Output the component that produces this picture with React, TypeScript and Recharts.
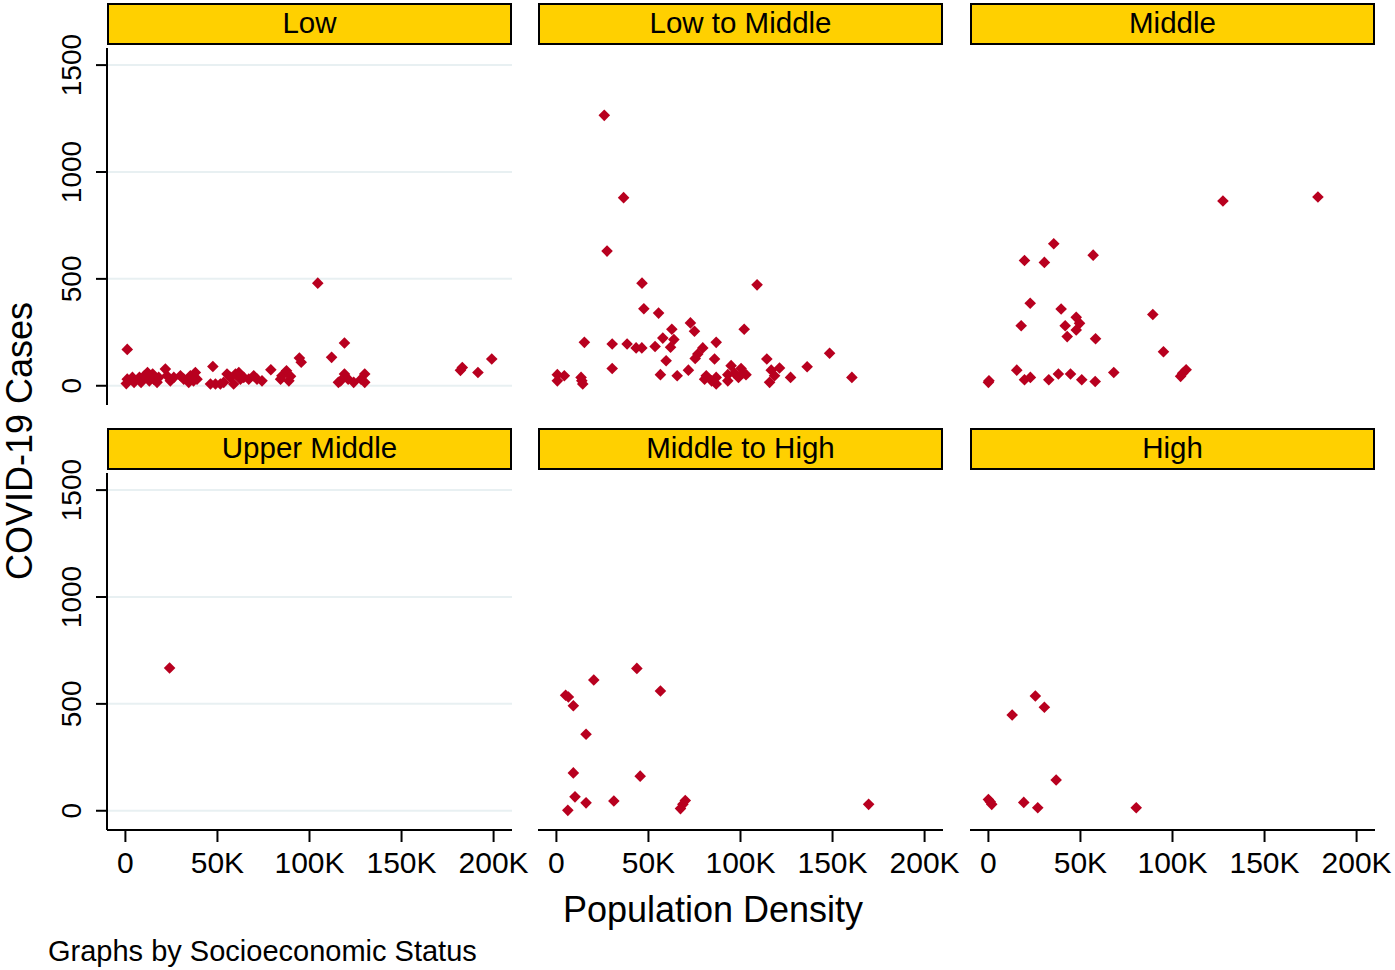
import React from 'react';
import { ScatterChart, Scatter, XAxis, YAxis, CartesianGrid } from 'recharts';

const FONT = '"Liberation Sans", Arial, Helvetica, sans-serif';
const RED = '#b8001f';
const GOLD = '#ffd000';
const GRID = '#e8f0f2';

const panelTitles = ['Low', 'Low to Middle', 'Middle', 'Upper Middle', 'Middle to High', 'High'];
const xTicks = [0, 50000, 100000, 150000, 200000];
const yTicks = [0, 500, 1000, 1500];

// Low
const lowDensity = [500, 1000, 3800, 4700, 7600, 8500, 10300, 12000, 13000, 14800, 15400, 17200, 18100, 21700, 22600, 24400, 26300, 29900, 31700, 34400, 35300, 38000, 38900, 37000, 1000, 46200, 47500, 48900, 51600, 53400, 55200, 57000, 58800, 59800, 61600, 62500, 64300, 67000, 69700, 71500, 74200, 79000, 84300, 85000, 87500, 88800, 89700, 94500, 95500, 104500, 112000, 119000, 115700, 116900, 119000, 121000, 124000, 128000, 130000, 130000, 182000, 183000, 191500, 199000];
const lowCases = [10, 31, 39, 16, 39, 16, 47, 62, 23, 55, 31, 16, 39, 78, 47, 23, 39, 47, 31, 16, 47, 62, 31, 23, 170, 8, 90, 8, 8, 16, 55, 39, 8, 55, 62, 31, 39, 31, 47, 31, 23, 75, 31, 47, 70, 23, 44, 130, 110, 480, 133, 200, 16, 23, 55, 31, 16, 31, 55, 16, 72, 85, 62, 125];

// Low to Middle
const lowMidDensity = [26000, 36500, 27500, 46500, 109000, 47500, 55500, 102000, 72800, 75000, 62700, 15200, 30300, 38400, 43300, 46400, 53600, 57800, 63800, 62000, 59600, 86800, 79500, 76800, 75400, 85900, 30300, 56500, 65600, 71700, 114300, 136200, 148400, 160500, 127200, 121200, 116700, 118500, 115800, 81400, 80500, 86800, 86800, 84300, 94900, 93100, 93100, 96700, 100300, 98900, 103000, 101200, 500, 500, 4300, 13400, 14300, 13800];
const lowMidCases = [1265, 880, 630, 480, 472, 360, 340, 264, 294, 255, 264, 203, 195, 195, 177, 177, 184, 223, 216, 180, 117, 203, 177, 148, 128, 125, 81, 52, 47, 73, 125, 89, 152, 39, 39, 83, 73, 47, 16, 47, 31, 39, 8, 23, 94, 52, 23, 59, 81, 39, 52, 59, 52, 23, 47, 39, 8, 23];

// Middle
const midDensity = [127400, 179000, 35500, 19600, 30400, 56900, 22700, 39500, 89300, 17800, 41700, 47700, 49500, 47700, 42800, 58200, 95100, 15400, 19600, 22800, 32800, 38000, 44600, 50700, 58000, 68100, 107400, 104400, 105500, 0, 300];
const midCases = [864, 883, 664, 586, 577, 611, 386, 359, 333, 281, 281, 320, 292, 261, 230, 220, 159, 73, 28, 39, 28, 55, 55, 28, 20, 62, 75, 44, 58, 16, 23];

// Upper Middle
const upperMidDensity = [24000];
const upperMidCases = [668];

// Middle to High
const midHighDensity = [43700, 20300, 56500, 5000, 6500, 9200, 16100, 9200, 45500, 10100, 16100, 31200, 6200, 70000, 68700, 67400, 169600];
const midHighCases = [666, 612, 560, 540, 532, 491, 358, 177, 162, 65, 37, 46, 2, 48, 30, 10, 30];

// High
const highDensity = [25500, 30400, 12900, 36800, 0, 1800, 19200, 26800, 80300, 1000];
const highCases = [537, 484, 448, 144, 53, 30, 39, 14, 14, 42];

const toPoints = (xs: number[], ys: number[]) => xs.map((x, i) => ({ x, y: ys[i] }));

const panelData = [
  toPoints(lowDensity, lowCases),
  toPoints(lowMidDensity, lowMidCases),
  toPoints(midDensity, midCases),
  toPoints(upperMidDensity, upperMidCases),
  toPoints(midHighDensity, midHighCases),
  toPoints(highDensity, highCases),
];

const PANEL_W = 405;
const PLOT_H = 357;
const Y_W = 60;
const X_H = 60;
const M_TOP = 24;
const M_RIGHT = 34;
const STRIP_H = 41;
const colLeft = [107, 538, 970];
const rowTop = [48, 473];
const stripTop = [3, 428];
const X_DOMAIN: [number, number] = [-10000, 210000];
const Y_DOMAIN: [number, number] = [-90, 1580];

const Diamond = (props: any) => {
  const { cx, cy } = props;
  if (cx == null || cy == null) return null;
  const r = 5.8;
  return <path d={`M${cx},${cy - r}L${cx + r},${cy}L${cx},${cy + r}L${cx - r},${cy}Z`} fill={RED} />;
};

const YTick = (props: any) => {
  const { x, y, payload } = props;
  const bx = x - 15;
  return (
    <text x={bx} y={y} transform={`rotate(-90, ${bx}, ${y})`} textAnchor="middle" fontSize={28} fill="#000" fontFamily={FONT}>
      {payload.value}
    </text>
  );
};

const XTick = (props: any) => {
  const { x, y, payload } = props;
  const v = payload.value;
  return (
    <text x={x} y={y + 31} textAnchor="middle" fontSize={30} fill="#000" fontFamily={FONT}>
      {v === 0 ? '0' : `${v / 1000}K`}
    </text>
  );
};

const axisStyle = { stroke: '#000', strokeWidth: 2 };

const Panel = ({ idx }: { idx: number }) => {
  const col = idx % 3;
  const row = Math.floor(idx / 3);
  const showY = col === 0;
  const showX = row === 1;
  return (
    <div style={{ position: 'absolute', left: colLeft[col] - Y_W, top: rowTop[row] - M_TOP }}>
      <ScatterChart
        width={Y_W + PANEL_W + M_RIGHT}
        height={M_TOP + PLOT_H + X_H}
        margin={{ top: M_TOP, right: M_RIGHT, bottom: 0, left: 0 }}
      >
        <CartesianGrid vertical={false} horizontalValues={yTicks} stroke={GRID} strokeWidth={2} />
        <XAxis
          type="number"
          dataKey="x"
          domain={X_DOMAIN}
          ticks={xTicks}
          allowDataOverflow
          interval={0}
          height={X_H}
          tickSize={12}
          tickMargin={0}
          axisLine={showX ? axisStyle : false}
          tickLine={showX ? axisStyle : false}
          tick={showX ? (p: any) => <XTick {...p} /> : false}
        />
        <YAxis
          type="number"
          dataKey="y"
          domain={Y_DOMAIN}
          ticks={yTicks}
          allowDataOverflow
          interval={0}
          width={Y_W}
          tickSize={11}
          tickMargin={0}
          axisLine={showY ? axisStyle : false}
          tickLine={showY ? axisStyle : false}
          tick={showY ? (p: any) => <YTick {...p} /> : false}
        />
        <Scatter data={panelData[idx]} shape={<Diamond />} isAnimationActive={false} />
      </ScatterChart>
    </div>
  );
};

export default function App() {
  return (
    <div style={{ position: 'absolute', left: 0, top: 0, width: 1395, height: 970, background: '#fff', fontFamily: FONT }}>
      {panelTitles.map((_, i) => (
        <Panel key={i} idx={i} />
      ))}
      <svg width={1395} height={970} style={{ position: 'absolute', left: 0, top: 0, pointerEvents: 'none' }}>
        {panelTitles.map((t, i) => {
          const col = i % 3;
          const row = Math.floor(i / 3);
          const top = stripTop[row];
          return (
            <g key={t}>
              <rect x={colLeft[col] + 1} y={top + 1} width={PANEL_W - 2} height={STRIP_H - 1} fill={GOLD} stroke="#000" strokeWidth={2} />
              <text x={colLeft[col] + PANEL_W / 2} y={top + 30} textAnchor="middle" fontSize={29.5} fill="#000" fontFamily={FONT}>
                {t}
              </text>
            </g>
          );
        })}
        <text x={32} y={441} transform="rotate(-90, 32, 441)" textAnchor="middle" fontSize={36} fill="#000" fontFamily={FONT}>
          COVID-19 Cases
        </text>
        <text x={713} y={922} textAnchor="middle" fontSize={36} fill="#000" fontFamily={FONT}>
          Population Density
        </text>
        <text x={48} y={961} fontSize={29} fill="#000" fontFamily={FONT}>
          Graphs by Socioeconomic Status
        </text>
      </svg>
    </div>
  );
}
